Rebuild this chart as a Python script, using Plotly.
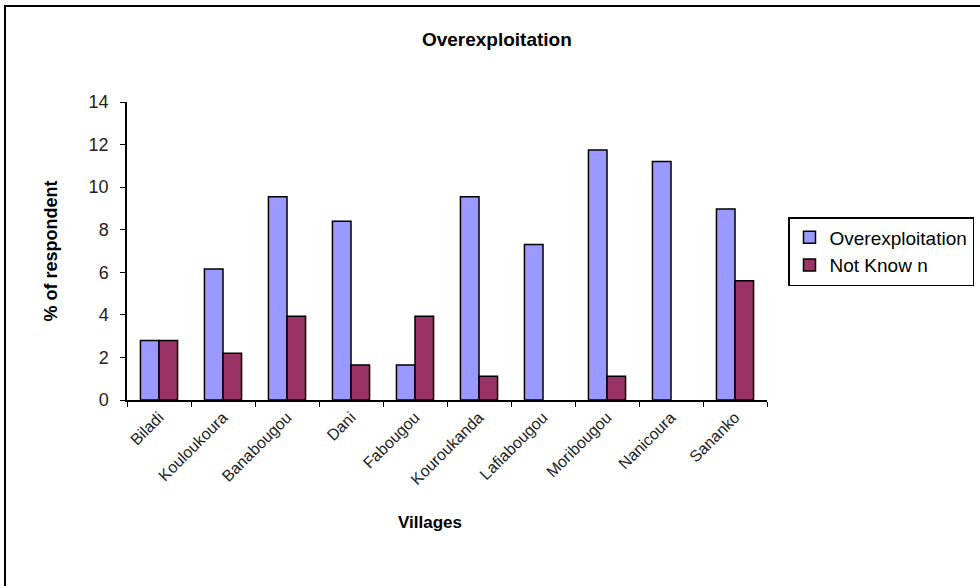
import plotly.graph_objects as go

villages = ["Biladi", "Kouloukoura", "Banabougou", "Dani", "Fabougou",
            "Kouroukanda", "Lafiabougou", "Moribougou", "Nanicoura", "Sananko"]
overexploitation = [2.8, 6.15, 9.55, 8.4, 1.65, 9.55, 7.3, 11.75, 11.2, 8.97]
not_known = [2.8, 2.2, 3.93, 1.65, 3.93, 1.12, 0, 1.12, 0, 5.6]
y_ticks = [0, 2, 4, 6, 8, 10, 12, 14]

FONT = "Liberation Sans, Arial, sans-serif"


def outline(values):
    return [1.5 if v > 0 else 0 for v in values]


fig = go.Figure()
fig.add_trace(go.Bar(x=villages, y=overexploitation, name="Overexploitation",
                     marker=dict(color="#9999FF",
                                 line=dict(color="black", width=outline(overexploitation)))))
fig.add_trace(go.Bar(x=villages, y=not_known, name="Not Know n",
                     marker=dict(color="#993366",
                                 line=dict(color="black", width=outline(not_known)))))

L, R, T, B = 127, 767, 102, 400
W, H = 980, 586

fig.update_layout(
    width=W, height=H,
    margin=dict(l=L, r=W - R, t=T, b=H - B, autoexpand=False),
    paper_bgcolor="white", plot_bgcolor="white",
    barmode="group", bargap=0.42, bargroupgap=0,
    font=dict(family=FONT, color="black"),
    title=dict(text="<b>Overexploitation</b>", font=dict(size=19, family=FONT),
               xref="container", x=0.507, xanchor="center",
               yref="container", y=1 - 39 / H, yanchor="middle"),
    showlegend=True,
    legend=dict(x=(788 - L) / (R - L), xanchor="left",
                y=(B - 217) / (B - T), yanchor="top",
                bordercolor="black", borderwidth=1.5,
                font=dict(size=19, family=FONT),
                tracegroupgap=2, itemwidth=30,
                entrywidth=200, entrywidthmode="pixels"),
    xaxis=dict(showline=True, linecolor="black", linewidth=1.5,
               ticks="outside", tickson="boundaries", ticklen=5, tickcolor="black",
               tickangle=-45, tickfont=dict(size=16, family=FONT, color="#222"),
               showgrid=False, zeroline=False),
    yaxis=dict(range=[0, 14], tickvals=y_ticks, showline=True, linecolor="black",
               linewidth=1.5, ticks="outside", ticklen=5, tickcolor="black",
               ticklabelstandoff=8,
               tickfont=dict(size=18, family=FONT, color="#222"),
               showgrid=False, zeroline=False,
               title=dict(text="<b>% of respondent</b>", font=dict(size=18, family=FONT),
                          standoff=26)),
    shapes=[dict(type="rect", xref="paper", yref="paper",
                 x0=(5 - L) / (R - L), x1=(1000 - L) / (R - L),
                 y0=(B - 600) / (B - T), y1=(B - 6) / (B - T),
                 line=dict(color="black", width=2), fillcolor="rgba(0,0,0,0)",
                 layer="below")],
    annotations=[dict(text="<b>Villages</b>", xref="paper", yref="paper",
                      x=(430 - L) / (R - L), y=(B - 522) / (B - T),
                      xanchor="center", yanchor="middle", showarrow=False,
                      font=dict(size=17, family=FONT))],
)

fig.write_html("out.html")
